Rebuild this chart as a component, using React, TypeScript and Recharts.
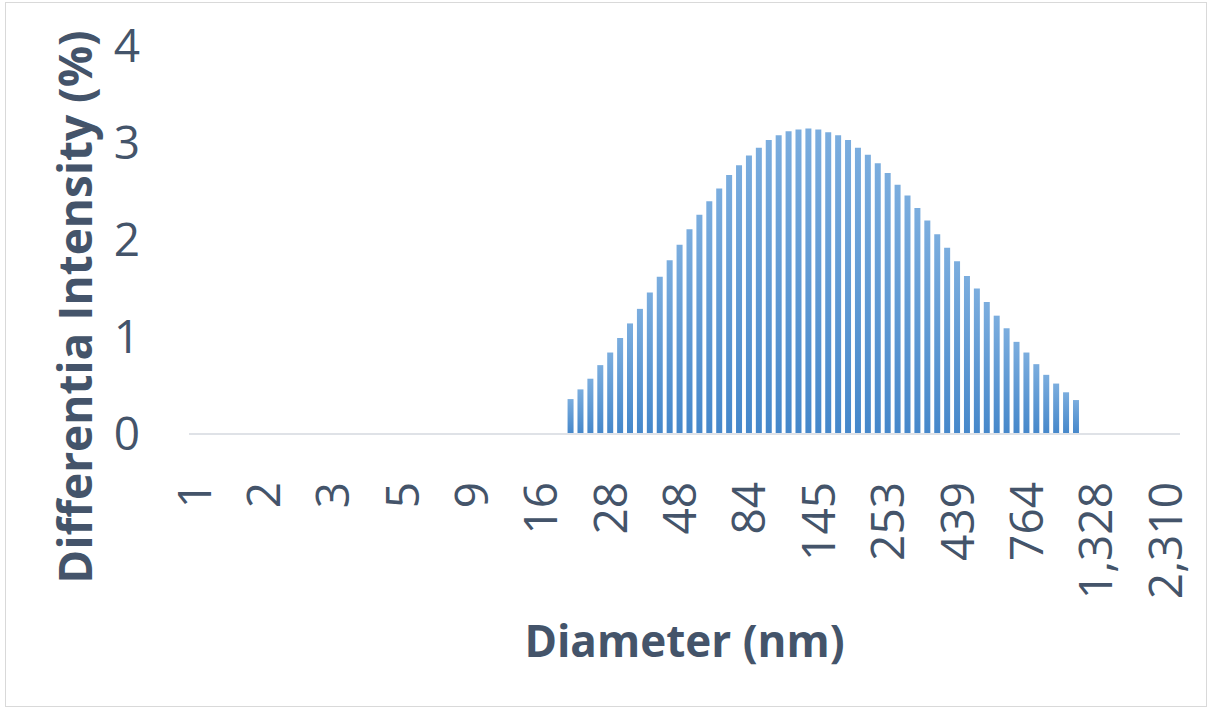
import React from 'react';
import { BarChart, Bar, XAxis, YAxis, Label } from 'recharts';

// diameter classes (nm), log-spaced
const diameters = [
  1.0, 1.082, 1.171, 1.267, 1.372, 1.484, 1.607, 1.739, 1.882, 2.037,
  2.204, 2.386, 2.582, 2.794, 3.024, 3.273, 3.542, 3.833, 4.148, 4.489,
  4.858, 5.258, 5.69, 6.158, 6.665, 7.213, 7.806, 8.448, 9.142, 9.893,
  10.71, 11.59, 12.54, 13.57, 14.69, 15.9, 17.2, 18.62, 20.15, 21.81,
  23.6, 25.54, 27.64, 29.92, 32.37, 35.04, 37.92, 41.04, 44.41, 48.07,
  52.02, 56.3, 60.93, 65.94, 71.36, 77.23, 83.58, 90.45, 97.88, 105.9,
  114.6, 124.1, 134.3, 145.3, 157.3, 170.2, 184.2, 199.3, 215.7, 233.5,
  252.7, 273.5, 296.0, 320.3, 346.6, 375.1, 406.0, 439.4, 475.5, 514.6,
  556.9, 602.7, 652.3, 705.9, 764.0, 826.8, 894.8, 968.4, 1048, 1134,
  1228, 1328.2, 1438, 1556, 1684, 1823, 1972, 2134, 2310, 2500,
];

// differential intensity (%)
const intensity = [
  0, 0, 0, 0, 0, 0, 0, 0, 0, 0,
  0, 0, 0, 0, 0, 0, 0, 0, 0, 0,
  0, 0, 0, 0, 0, 0, 0, 0, 0, 0,
  0, 0, 0, 0, 0, 0, 0, 0, 0.36, 0.46,
  0.57, 0.71, 0.84, 0.99, 1.14, 1.29, 1.46, 1.62, 1.79, 1.95,
  2.11, 2.26, 2.4, 2.53, 2.67, 2.77, 2.87, 2.95, 3.03, 3.08,
  3.12, 3.14, 3.15, 3.14, 3.11, 3.08, 3.03, 2.95, 2.88, 2.79,
  2.69, 2.57, 2.46, 2.33, 2.2, 2.06, 1.92, 1.78, 1.63, 1.5,
  1.36, 1.22, 1.09, 0.95, 0.84, 0.72, 0.61, 0.52, 0.43, 0.35,
  0, 0, 0, 0, 0, 0, 0, 0, 0, 0,
];

const yTicks = [0, 1, 2, 3, 4];

const chartData = diameters.map((d, i) => ({ diameter: d, intensity: intensity[i] }));

const colors = {
  text: '#44546a',
  axis: '#dfe2e7',
  border: '#d9d9d9',
  barTop: '#7badde',
  barBottom: '#4587ca',
};
const font = '"Open Sans", sans-serif';

const formatDiameter = (v: number) => Math.round(v).toLocaleString('en-US');

const XTick = (props: any) => {
  const { x, y, payload } = props;
  return (
    <text
      x={x}
      y={y}
      transform={`rotate(-90, ${x}, ${y})`}
      textAnchor="end"
      dy="0.36em"
      fill={colors.text}
      fontSize={46}
      fontFamily={font}
    >
      {formatDiameter(payload.value)}
    </text>
  );
};

export default function App() {
  return (
    <div style={{ position: 'absolute', left: 0, top: 0, width: 1211, height: 709, background: '#fff' }}>
      <div
        style={{
          position: 'absolute',
          left: 5,
          top: 2,
          width: 1200,
          height: 703,
          border: `1px solid ${colors.border}`,
        }}
      />
      <div style={{ position: 'absolute', left: 0, top: 0 }}>
        <BarChart
          width={1211}
          height={709}
          data={chartData}
          margin={{ top: 46, right: 31, bottom: 0, left: 0 }}
          barCategoryGap="20%"
        >
          <defs>
            <linearGradient id="barGrad" x1="0" y1="0" x2="0" y2="1">
              <stop offset="0%" stopColor={colors.barTop} />
              <stop offset="100%" stopColor={colors.barBottom} />
            </linearGradient>
          </defs>
          <XAxis
            dataKey="diameter"
            type="category"
            interval={6}
            height={275}
            tickSize={0}
            tickMargin={48}
            tickLine={false}
            axisLine={{ stroke: colors.axis, strokeWidth: 2 }}
            tick={<XTick />}
          >
            <Label
              content={(p: any) => {
                const vb = p.viewBox;
                return (
                  <text
                    x={vb.x + vb.width / 2}
                    y={657}
                    textAnchor="middle"
                    fill={colors.text}
                    fontSize={44}
                    fontWeight="bold"
                    fontFamily={font}
                  >
                    Diameter (nm)
                  </text>
                );
              }}
            />
          </XAxis>
          <YAxis
            width={189}
            domain={[0, 4]}
            ticks={yTicks}
            tickSize={0}
            tickMargin={49}
            axisLine={false}
            tickLine={false}
            tick={{ fill: colors.text, fontSize: 46, fontFamily: font }}
          >
            <Label
              content={() => (
                <text
                  x={92}
                  y={307}
                  transform="rotate(-90, 92, 307)"
                  textAnchor="middle"
                  fill={colors.text}
                  fontSize={46}
                  fontWeight="bold"
                  fontFamily={font}
                >
                  Differentia Intensity (%)
                </text>
              )}
            />
          </YAxis>
          <Bar dataKey="intensity" fill="url(#barGrad)" isAnimationActive={false} />
        </BarChart>
      </div>
    </div>
  );
}
